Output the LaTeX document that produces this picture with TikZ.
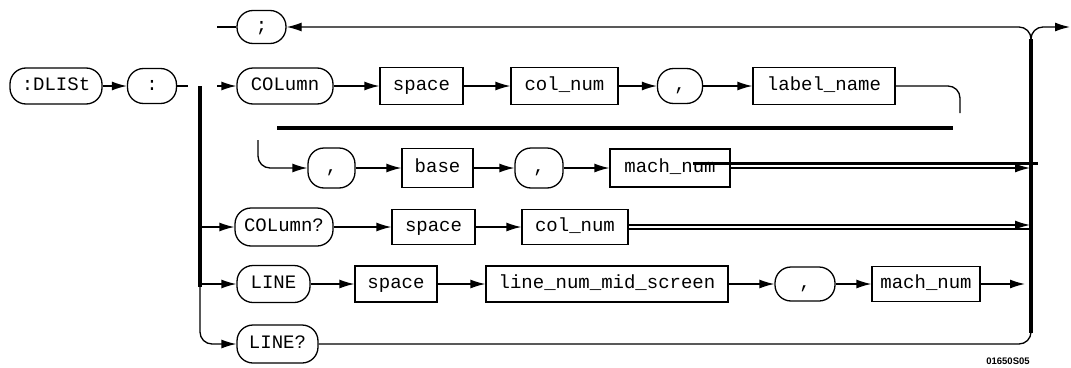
\documentclass[tikz,border=0pt]{standalone}
\usepackage{fontspec}
\newfontfamily\plotfont{Liberation Mono}
\usetikzlibrary{arrows.meta}
\begin{document}
\begin{tikzpicture}[x=1pt,y=-1pt,
  ln/.style={line width=1.3pt},
  arr/.style={line width=1.3pt,-{Latex[length=15pt,width=9pt]}},
  heavy/.style={line width=3.6pt},
  lbl/.style={font=\plotfont\fontsize{19}{21}\selectfont, inner sep=0pt, line width=1.3pt,
    text height=12pt, text depth=3pt},
  term/.style={lbl, draw, rounded corners=16pt},
  nterm/.style={lbl, draw, rectangle},
  sz/.style 2 args={minimum width=#1pt, minimum height=#2pt}]
\useasboundingbox (0,0) rectangle (1071,367);

% row 0
\node[term, sz={49}{33}] (semi) at (261.5,27) {;};
% row 1
\node[term, sz={92}{36}] (dlist) at (56,86) {:DLISt};
\node[term, sz={49}{35}] (colon) at (152,86) {:};
\node[term, sz={96}{36}] (column) at (285,86) {COLumn};
\node[nterm, sz={83}{37}] (space1) at (421.5,86) {space};
\node[nterm, sz={107}{37}] (colnum1) at (564.5,86) {col\_num};
\node[term, sz={45}{35}] (comma1) at (680,86) {,};
\node[nterm, sz={142}{37}] (labelname) at (824,86) {label\_name};
% row 2
\node[term, sz={47}{40}] (comma2) at (331.5,168) {,};
\node[nterm, sz={71}{39}] (base) at (437.5,168) {base};
\node[term, sz={48}{40}] (comma3) at (539,168) {,};
\node[nterm, sz={120}{38}] (machnum1) at (670,168) {mach\_num};
% row 3
\node[term, sz={98}{38}] (columnq) at (284,227) {COLumn?};
\node[nterm, sz={83}{35}] (space2) at (433.5,227) {space};
\node[nterm, sz={106}{35}] (colnum2) at (575,227) {col\_num};
% row 4
\node[term, sz={73}{37}] (line) at (273.5,284) {LINE};
\node[nterm, sz={82}{36}] (space3) at (396,284) {space};
\node[nterm, sz={242}{36}] (linenum) at (607,284) {line\_num\_mid\_screen};
\node[term, sz={60}{34}] (comma4) at (805,284) {,};
\node[nterm, sz={108}{35}] (machnum2) at (926,284) {mach\_num};
% row 5
\node[term, sz={81}{38}] (lineq) at (277.5,344) {LINE?};
% figure code
\node[font=\fontspec{Liberation Sans}\bfseries\fontsize{9.5}{10}\selectfont, inner sep=0pt] (code) at (1008,361) {01650S05};

% coordinates
\coordinate (colonout) at (188,86);
\coordinate (ltop) at (200,86);
\coordinate (lbot) at (200,287);
\coordinate (l1) at (217,86);
\coordinate (l0) at (217,27);
\coordinate (l3) at (200,227);
\coordinate (l4) at (200,284);
\coordinate (rtop) at (1031,39);
\coordinate (rbot) at (1031,333);
\coordinate (exit) at (1070,27);
\coordinate (wrapend) at (960,113);
\coordinate (wrapstart) at (258,140);
\coordinate (barL) at (277,128);
\coordinate (barR) at (953,128);
\coordinate (r2end) at (1030,168);
\coordinate (tickL) at (693,163);
\coordinate (tickR) at (1038,163);
\coordinate (r3endA) at (1030,225);
\coordinate (r3endB) at (1030,229);
\coordinate (r4end) at (1025,284);

% left part
\draw[arr] (dlist) -- (colon);
\draw[ln] (colon) -- (colonout);
\draw[heavy] (ltop) -- (lbot);
\draw[ln] (l0) -- (semi);
\draw[arr] (l1) -- (column);
\draw[arr] (l3) -- (columnq);
\draw[arr] (l4) -- (line);
\draw[arr, rounded corners=12pt] (lbot) |- (lineq);

% right part
\draw[heavy] (rtop) -- (rbot);
\draw[arr, rounded corners=12pt] (rtop) |- (semi);
\draw[arr, rounded corners=12pt] (rtop) |- (exit);

% row 1
\draw[arr] (column) -- (space1);
\draw[arr] (space1) -- (colnum1);
\draw[arr] (colnum1) -- (comma1);
\draw[arr] (comma1) -- (labelname);
\draw[ln, rounded corners=12pt] (labelname) -| (wrapend);
\draw[heavy] (barL) -- (barR);

% row 2
\draw[arr, rounded corners=12pt] (wrapstart) |- (comma2);
\draw[arr] (comma2) -- (base);
\draw[arr] (base) -- (comma3);
\draw[arr] (comma3) -- (machnum1);
\draw[arr] (machnum1) -- (r2end);
\draw[line width=3pt] (tickL) -- (tickR);

% row 3
\draw[arr] (columnq) -- (space2);
\draw[arr] (space2) -- (colnum2);
\draw[arr] (colnum2.east) ++(0,-2) -- (r3endA);
\draw[ln] (colnum2.east) ++(0,2) -- (r3endB);

% row 4
\draw[arr] (line) -- (space3);
\draw[arr] (space3) -- (linenum);
\draw[arr] (linenum) -- (comma4);
\draw[arr] (comma4) -- (machnum2);
\draw[arr] (machnum2) -- (r4end);

% row 5
\draw[ln, rounded corners=12pt] (lineq) -| (rbot);
\end{tikzpicture}
\end{document}
